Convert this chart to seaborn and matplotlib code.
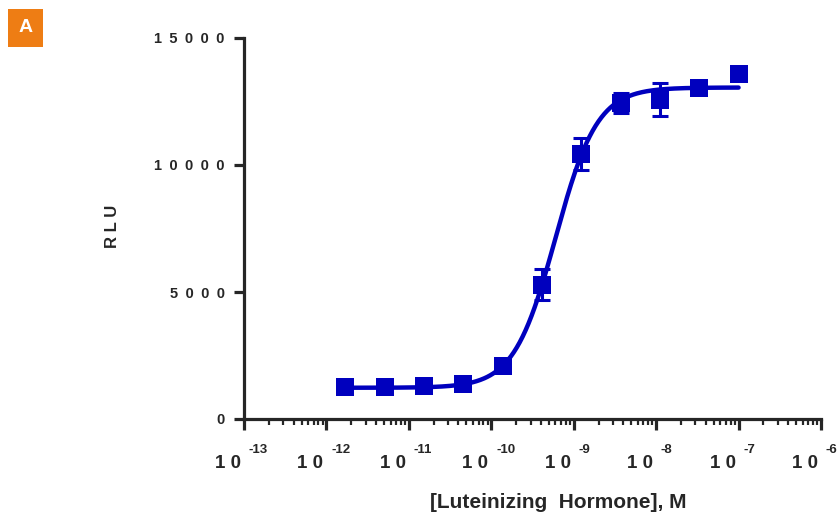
import numpy as np
import pandas as pd
import matplotlib
matplotlib.use("Agg")
import matplotlib.pyplot as plt
import seaborn as sns
from matplotlib.patches import Rectangle
from matplotlib.transforms import offset_copy
from matplotlib.ticker import FixedLocator, FuncFormatter, LogLocator, NullFormatter

# Values (3-fold dilution series)
conc = [1.69e-12, 5.08e-12, 1.52e-11, 4.57e-11, 1.37e-10, 4.12e-10,
        1.23e-9, 3.70e-9, 1.11e-8, 3.33e-8, 1.0e-7]
rlu = [1260, 1250, 1300, 1380, 2090, 5280, 10430, 12440, 12560, 13030, 13600]
sem = [60, 60, 70, 80, 100, 610, 630, 400, 650, 120, 120]

# 4PL fit parameters shown by the curve
bottom, top, log_ec50, hill = 1230, 13050, -9.22, 1.72

decades = [-13, -12, -11, -10, -9, -8, -7, -6]
y_ticks = [0, 5000, 10000, 15000]

blue = "#0000BE"

df = pd.DataFrame({"conc": conc, "rlu": rlu, "sem": sem})
xs = np.geomspace(conc[0], conc[-1], 400)
fit = pd.DataFrame({"conc": xs,
                    "rlu": bottom + (top - bottom) / (1 + 10 ** ((log_ec50 - np.log10(xs)) * hill))})

sns.set_style("ticks")
plt.rcParams["font.family"] = ["Liberation Sans", "DejaVu Sans"]
plt.rcParams["font.weight"] = "bold"

fig = plt.figure(figsize=(8.38, 5.16), dpi=100)
ax = fig.add_axes([244 / 838, 1 - 419 / 516, (821 - 244) / 838, (419 - 38) / 516])

sns.lineplot(data=fit, x="conc", y="rlu", color=blue, lw=3.2, ax=ax, zorder=3)
ax.errorbar(df["conc"], df["rlu"], yerr=df["sem"], fmt="none", ecolor=blue,
            elinewidth=2.2, capsize=6, capthick=2.2, zorder=2, clip_on=False)
sns.scatterplot(data=df, x="conc", y="rlu", marker="s", s=150, color=blue,
                edgecolor=blue, linewidth=0, ax=ax, zorder=4, clip_on=False)

ax.set_xscale("log")
ax.set_xlim(1e-13, 1e-6)
ax.set_ylim(0, 15000)

ax.xaxis.set_major_locator(FixedLocator([10.0 ** d for d in decades]))
ax.xaxis.set_minor_locator(LogLocator(base=10, subs=np.arange(2, 10), numticks=50))
ax.xaxis.set_minor_formatter(NullFormatter())
ax.xaxis.set_major_formatter(NullFormatter())
ax.yaxis.set_major_locator(FixedLocator(y_ticks))
ax.yaxis.set_major_formatter(FuncFormatter(lambda v, p: "\u2002".join(str(int(v)))))

# x tick labels as base + raised exponent
tx = ax.get_xaxis_transform()
for d in decades:
    ax.text(10.0 ** d, -36 / 381, "1 0", ha="right", va="top", fontsize=13.5,
            fontweight="bold", transform=offset_copy(tx, fig=fig, x=-2.2, units="points"))
    ax.text(10.0 ** d, -37 / 381, str(d), ha="left", va="bottom", fontsize=9.5,
            fontweight="bold", transform=offset_copy(tx, fig=fig, x=3.4, units="points"))

for s in ["top", "right"]:
    ax.spines[s].set_visible(False)
for s in ["left", "bottom"]:
    ax.spines[s].set_linewidth(2.3)

ax.tick_params(axis="x", which="major", length=8, width=2.3)
ax.tick_params(axis="x", which="minor", length=4.5, width=1.6)
ax.tick_params(axis="y", which="major", length=7, width=2.3, pad=7, labelsize=10.5)
for lbl in ax.get_yticklabels():
    lbl.set_fontweight("bold")

ax.set_xlabel("")
ax.set_ylabel("")
fig.text(558 / 838, 1 - 503 / 516, "[Luteinizing  Hormone], M", ha="center", va="center",
         fontsize=15, fontweight="bold")
fig.text(112 / 838, 1 - 226 / 516, "R L U", ha="center", va="center", rotation=90,
         fontsize=12, fontweight="bold")

fig.patches.append(Rectangle((8 / 838, 1 - 47 / 516), 35 / 838, 38 / 516,
                             transform=fig.transFigure, facecolor="#EE7D14",
                             edgecolor="none", figure=fig))
fig.text(25.5 / 838, 1 - 28 / 516, "A", ha="center", va="center", color="white",
         fontsize=14, fontweight="bold")

fig.savefig("out.png", dpi=100)
